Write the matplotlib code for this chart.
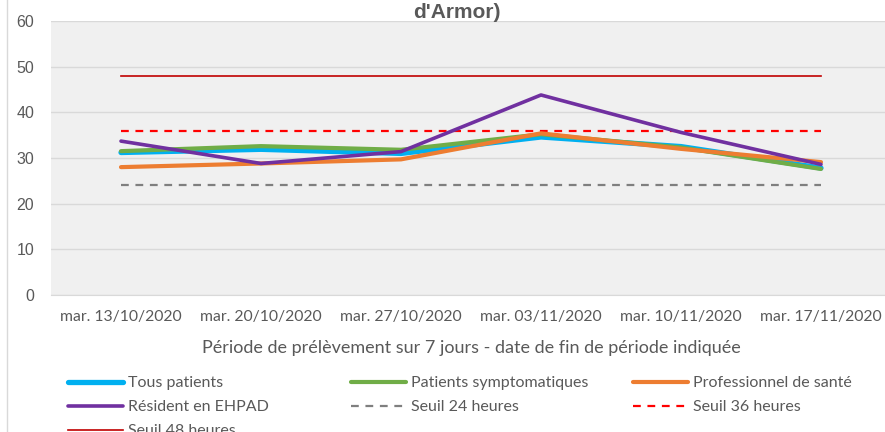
import numpy as np
import matplotlib.pyplot as plt

dates = ['mar. 13/10/2020', 'mar. 20/10/2020', 'mar. 27/10/2020',
         'mar. 03/11/2020', 'mar. 10/11/2020', 'mar. 17/11/2020']
tous_patients = [31.2, 31.9, 31.0, 34.6, 32.5, 27.8]
symptomatiques = [31.5, 32.6, 31.8, 35.2, 32.3, 27.6]
professionnels = [28.0, 28.8, 29.7, 35.4, 32.0, 29.1]
ehpad = [33.7, 28.8, 31.4, 43.8, 35.6, 28.6]
seuil_24 = [24] * 6
seuil_36 = [36] * 6
seuil_48 = [48] * 6

grey_txt = '#595959'
font = 'Lato'

fig = plt.figure(figsize=(8.85, 4.32), dpi=100)
ax = fig.add_axes([51/885, 1-295/432, 840/885, 274/432])
ax.set_facecolor('#f0f0f0')
x = np.arange(len(dates))

dash = (0, (3.5, 3))
l1, = ax.plot(x, tous_patients, color='#00b0f0', lw=3.8, solid_capstyle='round', label='Tous patients', zorder=3)
l2, = ax.plot(x, symptomatiques, color='#70ad47', lw=3.0, solid_capstyle='round', label='Patients symptomatiques', zorder=4)
l3, = ax.plot(x, professionnels, color='#ed7d31', lw=3.0, solid_capstyle='round', label='Professionnel de santé', zorder=5)
l4, = ax.plot(x, ehpad, color='#7030a0', lw=2.6, solid_capstyle='round', label='Résident en EHPAD', zorder=6)
l5, = ax.plot(x, seuil_24, color='#7f7f7f', lw=1.6, ls=dash, label='Seuil 24 heures', zorder=2)
l6, = ax.plot(x, seuil_36, color='#ff0000', lw=1.6, ls=dash, label='Seuil 36 heures', zorder=2)
l7, = ax.plot(x, seuil_48, color='#c00000', lw=1.2, label='Seuil 48 heures', zorder=2)

ax.set_xlim(-0.5, 5.5)
ax.set_ylim(0, 60)
ax.set_yticks(range(0, 61, 10))
ax.grid(axis='y', color='#d9d9d9', lw=1)
ax.set_axisbelow(True)
for s in ['top', 'right', 'left']:
    ax.spines[s].set_visible(False)
ax.spines['bottom'].set_color('#d9d9d9')
ax.tick_params(length=0)
ax.tick_params(axis='y', pad=12, labelcolor=grey_txt)
ax.set_yticklabels([str(v) for v in range(0, 61, 10)], family='Liberation Sans', fontsize=11.5)
ax.set_xticks(x)
ax.set_xticklabels(dates, family=font, fontsize=11.3, color=grey_txt)
ax.tick_params(axis='x', pad=11)
ax.set_xlabel('Période de prélèvement sur 7 jours - date de fin de période indiquée',
              family=font, fontsize=13, color=grey_txt, labelpad=11)

fig.text(457/885, 1-12/432, "d'Armor)", ha='center', va='center',
         family='Liberation Sans', fontsize=15, fontweight='bold', color=grey_txt)

# chart border on the left
fig.add_artist(plt.Line2D([7/885, 7/885], [0, 1], color='#d9d9d9', lw=1))

cols = [([l1, l4, l7], 68), ([l2, l5], 351), ([l3, l6], 633)]
for handles, xpos in cols:
    fig.legend(handles=handles, loc='upper left', bbox_to_anchor=(xpos/885, 1-376/432),
               frameon=False, handlelength=3.45, handletextpad=0.33, labelspacing=0.62,
               borderpad=0, borderaxespad=0,
               prop={'family': font, 'size': 11.5}, labelcolor=grey_txt)

plt.savefig('out.png', dpi=100)
plt.close('all')
